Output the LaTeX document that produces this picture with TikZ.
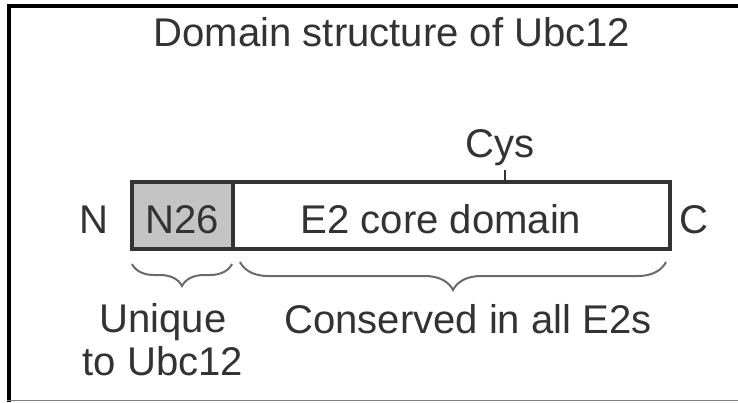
\documentclass[tikz,border=0pt]{standalone}
\usepackage{fontspec}
\setmainfont{Liberation Sans}
\usetikzlibrary{decorations.pathreplacing}

\definecolor{inkgray}{HTML}{333333}
\definecolor{n26gray}{HTML}{C4C4C4}
\definecolor{bracegray}{HTML}{6A6A6A}

\tikzset{
  lbl/.style={font=\fontsize{28.5}{29.9}\selectfont, text=inkgray, inner sep=0pt, anchor=base},
  domainbox/.style={draw=inkgray, line width=.09cm},
  brc/.style={draw=bracegray, line width=.05cm, decorate, decoration={brace, mirror, amplitude=#1}},
}

\begin{document}
\begin{tikzpicture}[x=0.025cm, y=-0.025cm]
\useasboundingbox (0,0) rectangle (738,402);
% frame
\draw[line width=.1cm] (7,6) -- (738,6);
\draw[line width=.1cm] (9,4) -- (9,402);
\draw[gray, line width=.04cm] (7,400.5) -- (738,400.5);
% title
\node[lbl] (title) at (392,46) {Domain structure of Ubc12};
% domains
\draw[domainbox, fill=n26gray] (132,182) rectangle (233,249);
\draw[domainbox] (233,182) rectangle (670,249);
\node[lbl] (nterm) at (93.5,233) {N};
\node[lbl] (cterm) at (694,233) {C};
\node[lbl] (n26) at (182,233) {N26};
\node[lbl] (core) at (441,233) {E2 core domain};
% active site
\coordinate (cysres) at (505,182);
\node[lbl] (cys) at (500,157) {Cys};
\draw[inkgray, line width=.07cm] (cysres) -- ++(0,-12);
% braces
\draw[brc=.55cm] (132,264) -- (232,264);
\draw[brc=.7cm] (240,262) -- (666,262);
\node[lbl, align=center] (unique) at (163,375) {Unique\\to Ubc12};
\node[lbl] (conserved) at (468,333) {Conserved in all E2s};
\end{tikzpicture}
\end{document}
